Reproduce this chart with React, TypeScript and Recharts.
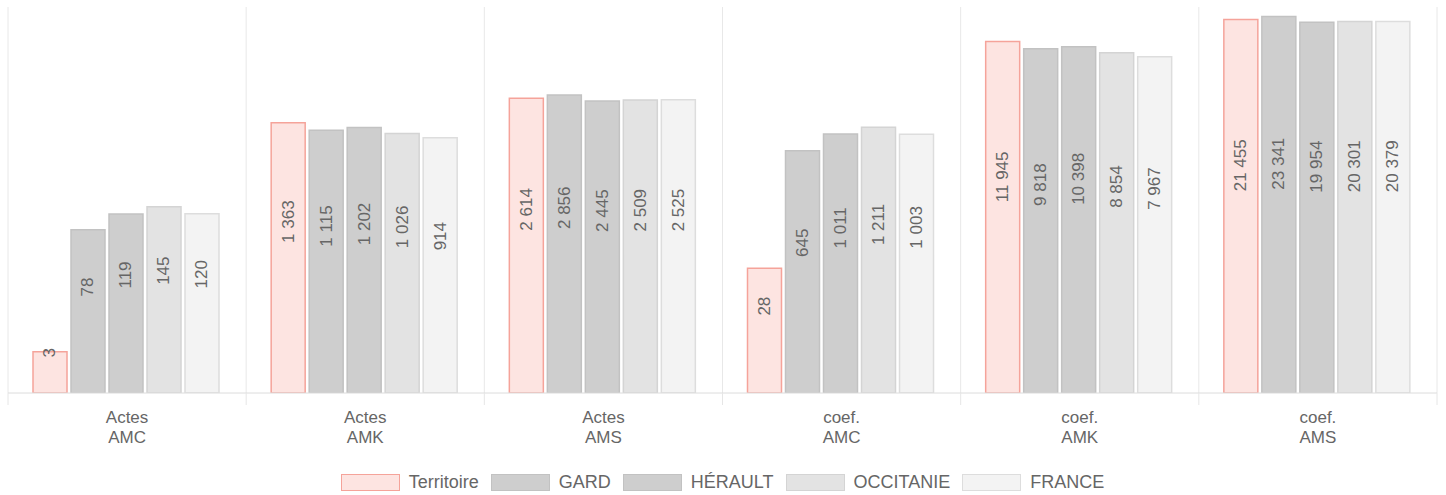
import React from "react";
import { BarChart, Bar, XAxis, YAxis, CartesianGrid, Legend, LabelList } from "recharts";

const categories = ["Actes AMC", "Actes AMK", "Actes AMS", "coef. AMC", "coef. AMK", "coef. AMS"];
const territoire = [3, 1363, 2614, 28, 11945, 21455];
const gard = [78, 1115, 2856, 645, 9818, 23341];
const herault = [119, 1202, 2445, 1011, 10398, 19954];
const occitanie = [145, 1026, 2509, 1211, 8854, 20301];
const france = [120, 914, 2525, 1003, 7967, 20379];

const seriesKeys = ["territoire", "gard", "herault", "occitanie", "france"];
const seriesNames = ["Territoire", "GARD", "HÉRAULT", "OCCITANIE", "FRANCE"];
const seriesFills = ["#fde4e1", "#cecece", "#cecece", "#e3e3e3", "#f3f3f3"];
const seriesStrokes = ["#f5a39a", "#c2c2c2", "#c2c2c2", "#d4d4d4", "#dddddd"];

const data = categories.map((c, i) => ({
  name: c,
  territoire: territoire[i],
  gard: gard[i],
  herault: herault[i],
  occitanie: occitanie[i],
  france: france[i],
}));

const FONT = "'Liberation Sans', Arial, Helvetica, sans-serif";
const fmt = (v: number) => String(v).replace(/\B(?=(\d{3})+(?!\d))/g, " ");

const BarLabel = (props: any) => {
  const { x, y, width, height, value } = props;
  const cx = Number(x) + Number(width) / 2;
  const cy = Number(y) + Number(height) / 2 - 15;
  return (
    <text
      x={cx}
      y={cy}
      transform={`rotate(-90, ${cx}, ${cy})`}
      textAnchor="start"
      dominantBaseline="central"
      fill="#666"
      fontSize={17}
      fontFamily={FONT}
    >
      {fmt(value)}
    </text>
  );
};

const Tick = (props: any) => {
  const { x, y, payload, index } = props;
  const half = payload && payload.offset ? payload.offset : 119;
  const lines = String(payload.value).split(" ");
  const last = index === categories.length - 1;
  return (
    <g>
      <line x1={x - half} x2={x - half} y1={y} y2={y + 12} stroke="#e6e6e6" strokeWidth={1} />
      {last && <line x1={x + half} x2={x + half} y1={y} y2={y + 12} stroke="#e6e6e6" strokeWidth={1} />}
      {lines.map((l, i) => (
        <text key={i} x={x} y={y + 30 + i * 20} textAnchor="middle" fill="#666" fontSize={17} fontFamily={FONT}>
          {l}
        </text>
      ))}
    </g>
  );
};

const LegendContent = () => (
  <div
    style={{
      display: "flex",
      justifyContent: "center",
      alignItems: "center",
      height: 32,
      paddingTop: 6,
      boxSizing: "border-box",
      fontFamily: FONT,
      fontSize: 18,
      color: "#666",
    }}
  >
    {seriesNames.map((n, i) => (
      <div key={n} style={{ display: "flex", alignItems: "center", marginRight: i === seriesNames.length - 1 ? 0 : 12 }}>
        <div
          style={{
            width: 57,
            height: 15,
            background: seriesFills[i],
            border: `1.5px solid ${seriesStrokes[i]}`,
            marginRight: 9,
          }}
        />
        <span style={{ lineHeight: "18px" }}>{n}</span>
      </div>
    ))}
  </div>
);

export default function App() {
  return (
    <div style={{ position: "absolute", left: 0, top: 0 }}>
      <BarChart
        width={1446}
        height={495}
        data={data}
        margin={{ top: 7, right: 9, left: 8, bottom: 0 }}
        barCategoryGap="10.5%"
        barGap={4}
      >
        <CartesianGrid
          horizontal={false}
          stroke="#e8e8e8"
          verticalCoordinatesGenerator={({ offset }: any) =>
            Array.from({ length: categories.length + 1 }, (_, i) => offset.left + (i * offset.width) / categories.length)
          }
        />
        <XAxis
          dataKey="name"
          height={70}
          tickLine={false}
          tickSize={0}
          tickMargin={0}
          axisLine={{ stroke: "#dcdcdc" }}
          tick={<Tick />}
          interval={0}
        />
        <YAxis hide scale="log" domain={[1, 30000]} allowDataOverflow type="number" />
        <Legend verticalAlign="bottom" content={<LegendContent />} />
        {seriesKeys.map((k, i) => (
          <Bar
            key={k}
            dataKey={k}
            name={seriesNames[i]}
            fill={seriesFills[i]}
            stroke={seriesStrokes[i]}
            strokeWidth={1.5}
            isAnimationActive={false}
          >
            <LabelList dataKey={k} content={<BarLabel />} />
          </Bar>
        ))}
      </BarChart>
    </div>
  );
}
